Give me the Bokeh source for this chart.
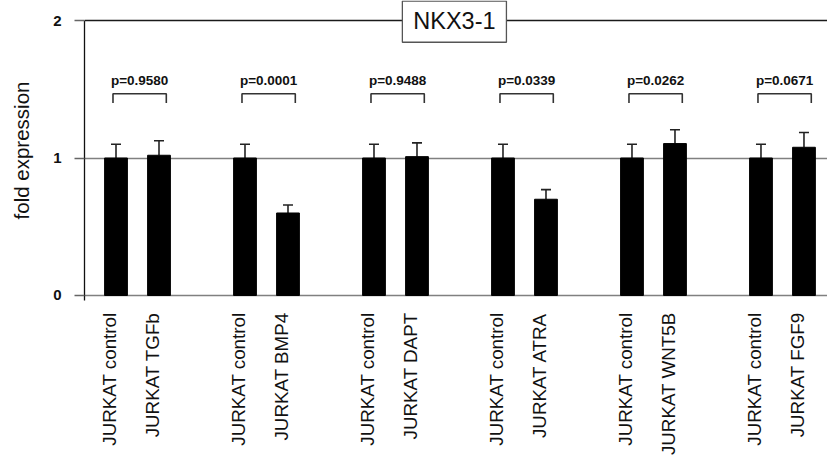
import math
from bokeh.plotting import figure
from bokeh.models import ColumnDataSource, FixedTicker, Grid, Whisker, TeeHead, Range1d
from bokeh.core.properties import value
from bokeh.embed import file_html
from bokeh.resources import INLINE

# ---------------- data ----------------
conditions = ["JURKAT control", "JURKAT TGFb",
              "JURKAT control", "JURKAT BMP4",
              "JURKAT control", "JURKAT DAPT",
              "JURKAT control", "JURKAT ATRA",
              "JURKAT control", "JURKAT WNT5B",
              "JURKAT control", "JURKAT FGF9"]
fold = [1.00, 1.02, 1.00, 0.60, 1.00, 1.01, 1.00, 0.70, 1.00, 1.105, 1.00, 1.078]
err = [0.10, 0.105, 0.10, 0.058, 0.10, 0.10, 0.10, 0.07, 0.10, 0.10, 0.10, 0.107]
p_values = ["p=0.9580", "p=0.0001", "p=0.9488", "p=0.0339", "p=0.0262", "p=0.0671"]
y_ticks = [0, 1, 2]
y_title = "fold expression"
title_text = "NKX3-1"

# ---------------- layout ----------------
GROUP_STEP = 3
pos = [(i // 2) * GROUP_STEP + (i % 2) for i in range(len(conditions))]
group_start = [g * GROUP_STEP for g in range(len(p_values))]
LABEL_SHIFT = -0.14
label_pos = [x + LABEL_SHIFT for x in pos]

FONT = "Liberation Sans"
Y0, Y1 = -0.0364, 2.1455

p = figure(width=827, height=458, output_backend="svg", toolbar_location=None,
           x_range=Range1d(-0.7326, 16.547), y_range=Range1d(Y0, Y1),
           min_border_left=84, min_border_right=0, min_border_top=0, min_border_bottom=158)
p.outline_line_color = None
p.xgrid.grid_line_color = None

# y grid lines (0 and 1 gray, 2 dark)
p.ygrid.ticker = FixedTicker(ticks=[0, 1])
p.ygrid.grid_line_color = "#808080"
p.ygrid.grid_line_width = 1.3
top_grid = Grid(dimension=1, ticker=FixedTicker(ticks=[2]), grid_line_color="#1a1a1a",
                grid_line_width=1.3)
p.add_layout(top_grid)

# y axis
ya = p.yaxis[0]
ya.ticker = FixedTicker(ticks=y_ticks)
ya.bounds = (Y0, 2)
ya.axis_line_color = "#111111"
ya.axis_line_width = 1.3
ya.major_tick_in = 0
ya.major_tick_out = 10
ya.major_tick_line_color = "#666666"
ya.major_tick_line_width = 1.3
ya.minor_tick_line_color = None
ya.major_label_text_font = FONT
ya.major_label_text_font_style = "bold"
ya.major_label_text_font_size = "15px"
ya.major_label_text_color = "#111111"
ya.major_label_standoff = 13
ya.axis_label = y_title
ya.axis_label_text_font = FONT
ya.axis_label_text_font_style = "normal"
ya.axis_label_text_font_size = "20.5px"
ya.axis_label_text_color = "#111111"
ya.axis_label_standoff = 17

# x axis
xa = p.xaxis[0]
xa.ticker = FixedTicker(ticks=label_pos)
xa.major_label_overrides = {pp: lab for pp, lab in zip(label_pos, conditions)}
xa.major_label_orientation = math.pi / 2
xa.axis_line_color = None
xa.major_tick_line_color = None
xa.minor_tick_line_color = None
xa.major_tick_out = 0
xa.major_label_standoff = 12
xa.major_label_text_font = FONT
xa.major_label_text_font_size = "18.8px"
xa.major_label_text_color = "#111111"

# bars
src = ColumnDataSource(dict(x=pos, val=fold, upper=[v + e for v, e in zip(fold, err)]))
p.vbar(x="x", top="val", bottom=0, width=0.53, source=src,
       fill_color="black", line_color="black")

# error bars (upper only)
wh = Whisker(base="x", lower="val", upper="upper", source=src,
             line_color="#222222", line_width=1.6,
             upper_head=TeeHead(size=10, line_color="#222222", line_width=1.6),
             lower_head=None)
p.add_layout(wh)

# p-value brackets
BR_LEFT, BR_RIGHT = -0.07, 1.17
BR_TOP, BR_LEG = 1.467, 1.40
bx = [[g + BR_LEFT, g + BR_LEFT, g + BR_RIGHT, g + BR_RIGHT] for g in group_start]
by = [[BR_LEG, BR_TOP, BR_TOP, BR_LEG] for _ in group_start]
p.multi_line(bx, by, line_color="#333333", line_width=1.6)

p.text(x=[g + (BR_LEFT + BR_RIGHT) / 2 for g in group_start], y=[1.564] * len(group_start),
       text=p_values, text_font=value(FONT), text_font_style="bold",
       text_font_size="13.5px", text_align="center", text_baseline="middle",
       text_color="#111111")

# title box
p.quad(left=[6.66], right=[9.08], top=[2.141], bottom=[1.842],
       fill_color="white", line_color="#555555", line_width=1.3)
p.text(x=[7.87], y=[1.996], text=[title_text], text_font=value(FONT),
       text_font_size="23.5px", text_align="center", text_baseline="middle",
       text_color="#111111")

open("out.html", "w").write(file_html(p, INLINE))
